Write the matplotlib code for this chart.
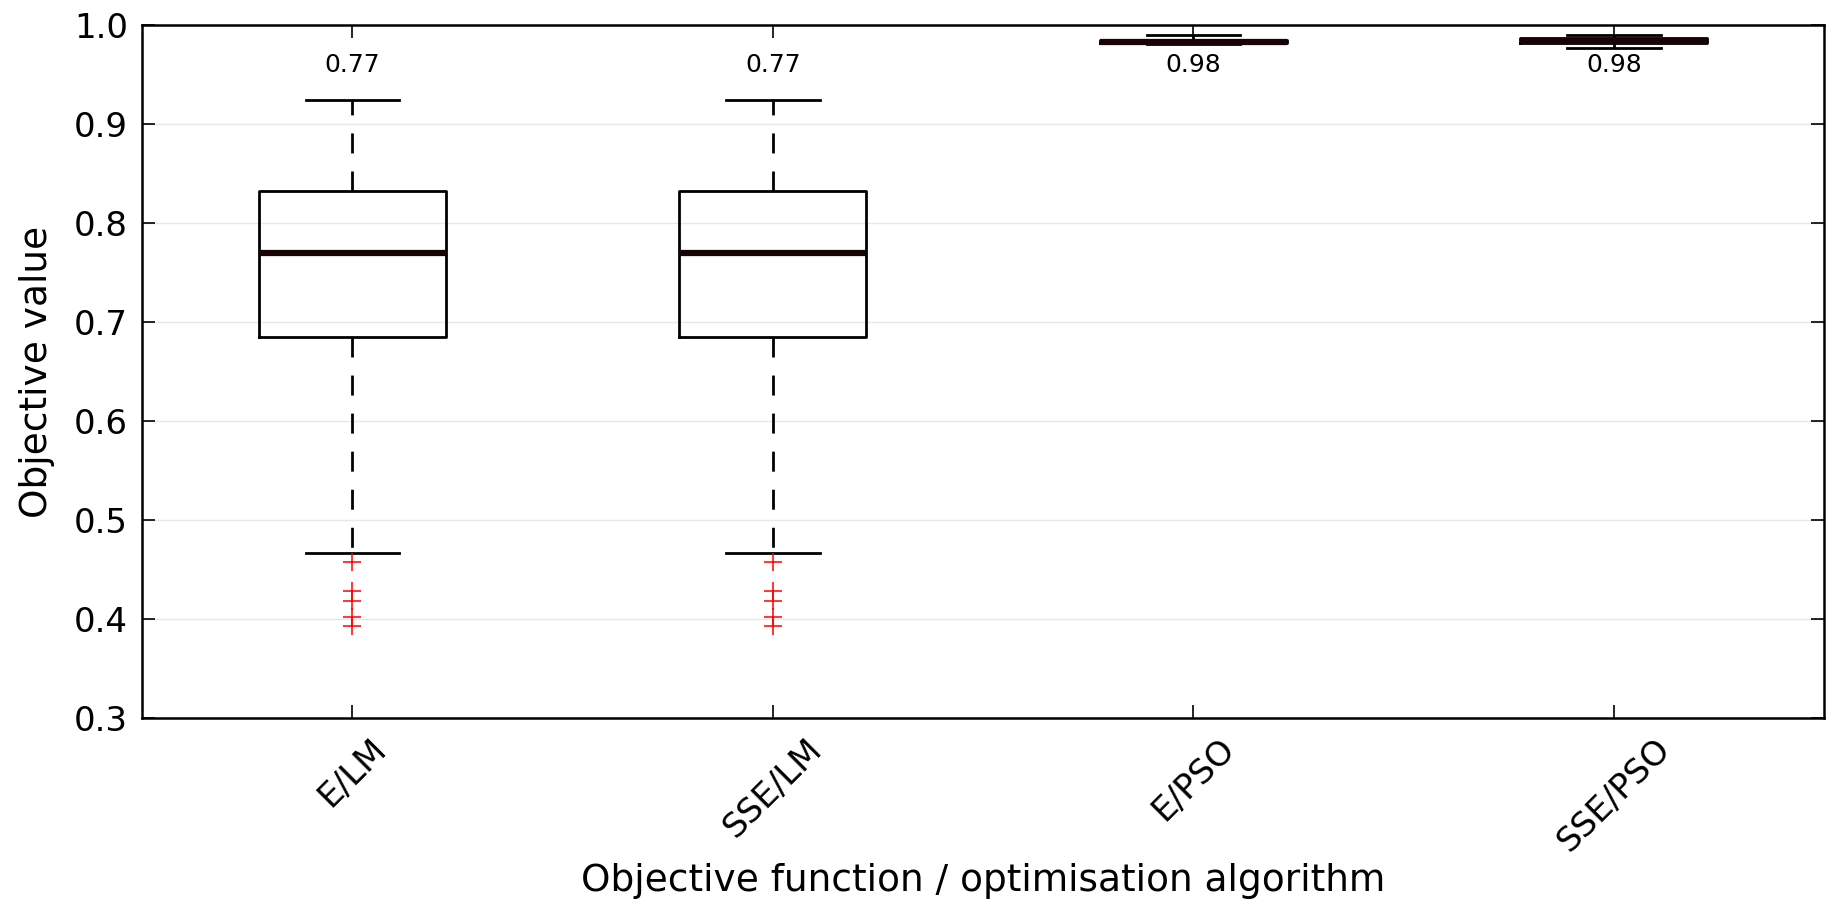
import matplotlib
matplotlib.use('Agg')
import matplotlib.pyplot as plt

labels = ['E/LM', 'SSE/LM', 'E/PSO', 'SSE/PSO']
whishi = [0.924, 0.924, 0.990, 0.990]
q3 = [0.832, 0.832, 0.985, 0.987]
med = [0.770, 0.770, 0.983, 0.984]
q1 = [0.685, 0.685, 0.982, 0.982]
whislo = [0.467, 0.467, 0.981, 0.977]
fliers = [
    [0.458, 0.428, 0.418, 0.402, 0.393],
    [0.458, 0.428, 0.418, 0.402, 0.393],
    [],
    [],
]

stats = []
for i in range(len(labels)):
    stats.append({'label': labels[i], 'whishi': whishi[i], 'q3': q3[i],
                  'med': med[i], 'q1': q1[i], 'whislo': whislo[i],
                  'fliers': fliers[i]})

plt.rcParams['lines.scale_dashes'] = False

fig = plt.figure(figsize=(18.33, 9.06), dpi=100)
ax = fig.add_axes([0.0775, 0.2075, 0.9176, 0.7649])

ax.bxp(stats, widths=0.445, showfliers=True,
       boxprops=dict(color='black', linewidth=2),
       whiskerprops=dict(color='black', linewidth=2, linestyle=(0, (14.4, 13))),
       capprops=dict(color='black', linewidth=2),
       medianprops=dict(color='#180404', linewidth=4.5),
       flierprops=dict(marker='+', markeredgecolor='red', markersize=13,
                       markeredgewidth=1.1, linestyle='none'))

for i, m in enumerate(med):
    ax.text(i + 1, 0.96, '%.2f' % m, ha='center', va='center', fontsize=18)

ax.set_xlim(0.5, 4.5)
ax.set_ylim(0.3, 1.0)
ax.set_yticks([0.3, 0.4, 0.5, 0.6, 0.7, 0.8, 0.9, 1.0])
ax.set_xticks([1, 2, 3, 4])
ax.set_xticklabels(labels, rotation=45)
ax.tick_params(direction='in', top=True, right=True, length=9.5, width=1.2,
               labelsize=24.5, pad=10)
ax.yaxis.grid(True, color='#e8e8e8', linewidth=1)
ax.set_axisbelow(True)
for s in ax.spines.values():
    s.set_linewidth(1.8)

ax.set_xlabel('Objective function / optimisation algorithm', fontsize=27, labelpad=4)
ax.set_ylabel('Objective value', fontsize=27, labelpad=14)

plt.savefig('out.png', dpi=100)
